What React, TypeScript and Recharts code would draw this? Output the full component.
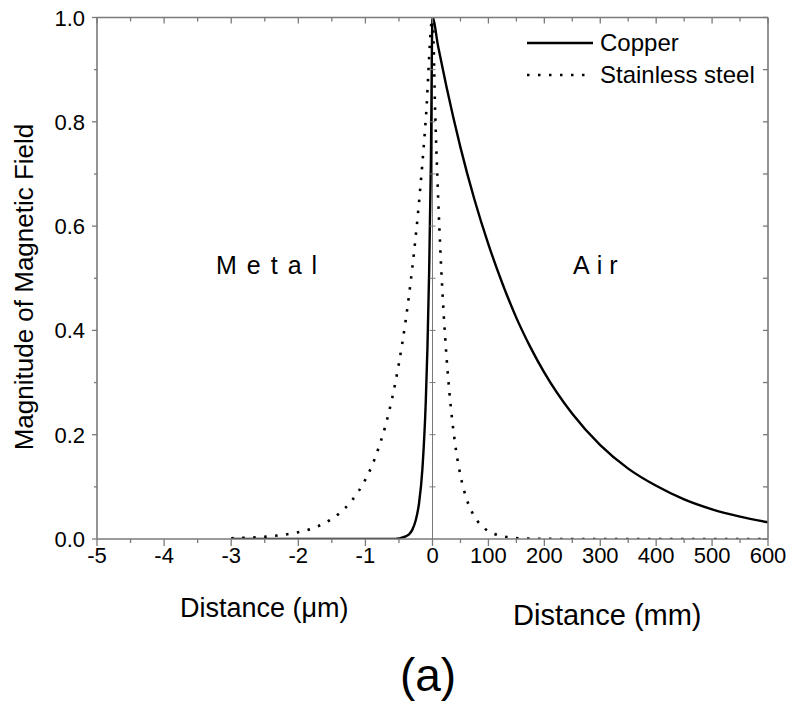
import React from 'react';
import { ComposedChart, Line, XAxis, YAxis, ReferenceLine, Scatter } from 'recharts';

// ---- data (metal side in µm, air side in mm) ----
const copperMetalUm = [-3, -1, -0.6, -0.5, -0.45, -0.4, -0.35, -0.3, -0.25, -0.2, -0.15, -0.1, -0.075, -0.05, -0.025, 0];
const copperMetalVal = [0, 0, 0, 0.001, 0.003, 0.005, 0.009, 0.018, 0.036, 0.069, 0.135, 0.264, 0.368, 0.513, 0.717, 1];
const copperAirMm = [0, 10, 25, 50, 75, 100, 125, 150, 175, 200, 250, 300, 350, 400, 450, 500, 550, 600];
const copperAirVal = [1, 0.945, 0.867, 0.751, 0.651, 0.565, 0.49, 0.424, 0.368, 0.319, 0.24, 0.18, 0.135, 0.102, 0.076, 0.057, 0.043, 0.032];

const steelMetalUm = [-3, -2.8, -2.6, -2.4, -2.2, -2.0, -1.8, -1.6, -1.4, -1.2, -1.0, -0.9, -0.8, -0.7, -0.6, -0.5, -0.4, -0.3, -0.2, -0.1, 0];
const steelMetalVal = [0.0015, 0.0023, 0.0035, 0.0054, 0.0084, 0.013, 0.02, 0.031, 0.048, 0.074, 0.114, 0.141, 0.176, 0.218, 0.271, 0.337, 0.419, 0.521, 0.647, 0.805, 1];
const steelAirMm = [0, 5, 10, 15, 20, 25, 30, 35, 40, 50, 60, 70, 80, 90, 100, 120, 140, 160, 200, 300, 400, 500, 600];
const steelAirVal = [1, 0.81, 0.657, 0.532, 0.432, 0.35, 0.284, 0.23, 0.186, 0.122, 0.08, 0.053, 0.035, 0.023, 0.015, 0.0065, 0.0028, 0.0012, 0.0002, 0, 0, 0, 0];

// ---- ticks ----
const xMetalTicksUm = [-5, -4, -3, -2, -1, 0];
const xAirTicksMm = [100, 200, 300, 400, 500, 600];
const xMetalMinorUm = [-4.5, -3.5, -2.5, -1.5, -0.5];
const xAirMinorMm = [50, 150, 250, 350, 450, 550];
const yMajorTicks = [0, 0.2, 0.4, 0.6, 0.8, 1.0];
const yMinorTicks = [0.1, 0.3, 0.5, 0.7, 0.9];

const seriesNames = ['Copper', 'Stainless steel'];

// the air half (0..600 mm) occupies the same width as the metal half (-5..0 µm)
const MM_PER_UNIT = 120;
const toU = (mm: number) => mm / MM_PER_UNIT;

const copperData = [
  ...copperMetalUm.map((d, i) => ({ u: d, v: copperMetalVal[i] })),
  ...copperAirMm.slice(1).map((d, i) => ({ u: toU(d), v: copperAirVal[i + 1] })),
];
const steelData = [
  ...steelMetalUm.map((d, i) => ({ u: d, v: steelMetalVal[i] })),
  ...steelAirMm.slice(1).map((d, i) => ({ u: toU(d), v: steelAirVal[i + 1] })),
];
const yAllTicks = [...yMajorTicks, ...yMinorTicks].sort((a, b) => a - b);
const centerTickData = yAllTicks.slice(1).map((v) => ({ u: 0, v }));

const xMajor = [...xMetalTicksUm, ...xAirTicksMm.map(toU)];
const xMinor = [...xMetalMinorUm, ...xAirMinorMm.map(toU)];
const xAll = [...xMajor, ...xMinor].sort((a, b) => a - b);

const FONT = '"Liberation Sans", Arial, Helvetica, sans-serif';
const AXIS = '#7a7a7a';
const DOTS = '2.5 8.5';
const TICK_FONT = 22;

const isIn = (arr: number[], v: number) => arr.some((a) => Math.abs(a - v) < 1e-6);
const fmtX = (u: number) => (u <= 0 ? String(Math.round(u)) : String(Math.round(u * MM_PER_UNIT)));
const fmtY = (v: number) => v.toFixed(1);

const BottomTick = (p: any) => {
  const { x, y, payload } = p;
  const major = isIn(xMajor, payload.value);
  return (
    <g>
      <line x1={x} x2={x} y1={y} y2={y + (major ? 7 : 4)} stroke={AXIS} strokeWidth={1.3} />
      {major && (
        <text x={x} y={y + 23.5} textAnchor="middle" fontSize={TICK_FONT} fill="#000" fontFamily={FONT}>
          {fmtX(payload.value)}
        </text>
      )}
    </g>
  );
};
const TopTick = (p: any) => {
  const { x, y, payload } = p;
  const major = isIn(xMajor, payload.value);
  return <line x1={x} x2={x} y1={y} y2={y + (major ? 6 : 4)} stroke={AXIS} strokeWidth={1.3} />;
};
const LeftTick = (p: any) => {
  const { x, y, payload } = p;
  const major = isIn(yMajorTicks, payload.value);
  return (
    <g>
      <line x1={x - (major ? 5 : 3)} x2={x} y1={y} y2={y} stroke={AXIS} strokeWidth={1.3} />
      {major && (
        <text x={x - 12} y={y + 8} textAnchor="end" fontSize={TICK_FONT} fill="#000" fontFamily={FONT}>
          {fmtY(payload.value)}
        </text>
      )}
    </g>
  );
};
const RightTick = (p: any) => {
  const { x, y } = p;
  return <line x1={x - 5} x2={x} y1={y} y2={y} stroke={AXIS} strokeWidth={1.3} />;
};
const CenterTick = (props: any) => {
  const { cx, cy } = props;
  if (cx == null || cy == null) return null;
  return <line x1={cx - 3} x2={cx + 3} y1={cy} y2={cy} stroke={AXIS} strokeWidth={1} />;
};

export default function App() {
  const axisLine = { stroke: AXIS, strokeWidth: 1.6 };
  return (
    <div style={{ position: 'absolute', left: 0, top: 0, width: 790, height: 701, background: '#fff', fontFamily: FONT }}>
      <ComposedChart width={790} height={701} margin={{ top: 16.5, left: 96, right: 21, bottom: 161 }}>
        <XAxis xAxisId="b" type="number" dataKey="u" domain={[-5, 5]} allowDataOverflow ticks={xAll}
          height={1} tickSize={0} tickMargin={0} interval={0} axisLine={axisLine} tickLine={false} tick={BottomTick} />
        <XAxis xAxisId="t" orientation="top" type="number" dataKey="u" domain={[-5, 5]} allowDataOverflow ticks={xAll}
          height={1} tickSize={0} tickMargin={0} interval={0} axisLine={axisLine} tickLine={false} tick={TopTick} />
        <YAxis yAxisId="l" type="number" domain={[0, 1]} allowDataOverflow ticks={yAllTicks}
          width={1} tickSize={0} tickMargin={0} interval={0} axisLine={axisLine} tickLine={false} tick={LeftTick} />
        <YAxis yAxisId="r" orientation="right" type="number" domain={[0, 1]} allowDataOverflow ticks={yAllTicks}
          width={1} tickSize={0} tickMargin={0} interval={0} axisLine={axisLine} tickLine={false} tick={RightTick} />

        <ReferenceLine xAxisId="b" yAxisId="l" x={0} stroke={AXIS} strokeWidth={1} />
        <Scatter xAxisId="b" yAxisId="l" data={centerTickData} dataKey="v" shape={CenterTick}
          isAnimationActive={false} legendType="none" />

        <Line xAxisId="b" yAxisId="l" data={steelData} dataKey="v" name={seriesNames[1]} type="monotone"
          stroke="#000" strokeWidth={2.6} strokeDasharray={DOTS} dot={false} activeDot={false} isAnimationActive={false} />
        <Line xAxisId="b" yAxisId="l" data={copperData} dataKey="v" name={seriesNames[0]} type="monotone"
          stroke="#000" strokeWidth={2.4} dot={false} activeDot={false} isAnimationActive={false} />
      </ComposedChart>

      {/* legend */}
      <svg style={{ position: 'absolute', left: 0, top: 0 }} width={790} height={120}>
        <line x1={527} x2={593} y1={43} y2={43} stroke="#000" strokeWidth={2.4} />
        <line x1={527} x2={593} y1={75} y2={75} stroke="#000" strokeWidth={2.6} strokeDasharray={DOTS} />
      </svg>
      <div style={{ position: 'absolute', left: 600, top: 43, transform: 'translateY(-50%)', fontSize: 24, lineHeight: 1, whiteSpace: 'nowrap' }}>{seriesNames[0]}</div>
      <div style={{ position: 'absolute', left: 600, top: 75, transform: 'translateY(-50%)', fontSize: 24, lineHeight: 1, whiteSpace: 'nowrap' }}>{seriesNames[1]}</div>

      {/* region labels */}
      <div style={{ position: 'absolute', left: 216, top: 265, transform: 'translateY(-50%)', fontSize: 25, letterSpacing: 10, lineHeight: 1, whiteSpace: 'nowrap' }}>Metal</div>
      <div style={{ position: 'absolute', left: 573, top: 265, transform: 'translateY(-50%)', fontSize: 25, letterSpacing: 7, lineHeight: 1, whiteSpace: 'nowrap' }}>Air</div>

      {/* axis titles */}
      <div style={{ position: 'absolute', left: 24, top: 287, transform: 'translate(-50%,-50%) rotate(-90deg)', fontSize: 26, lineHeight: 1, whiteSpace: 'nowrap' }}>Magnitude of Magnetic Field</div>
      <div style={{ position: 'absolute', left: 180, top: 608, transform: 'translateY(-50%)', fontSize: 27, lineHeight: 1, whiteSpace: 'nowrap' }}>Distance (μm)</div>
      <div style={{ position: 'absolute', left: 513, top: 615, transform: 'translateY(-50%)', fontSize: 29, lineHeight: 1, whiteSpace: 'nowrap' }}>Distance (mm)</div>
      <div style={{ position: 'absolute', left: 428, top: 675, transform: 'translate(-50%,-50%)', fontSize: 46, lineHeight: 1, whiteSpace: 'nowrap' }}>(a)</div>
    </div>
  );
}
